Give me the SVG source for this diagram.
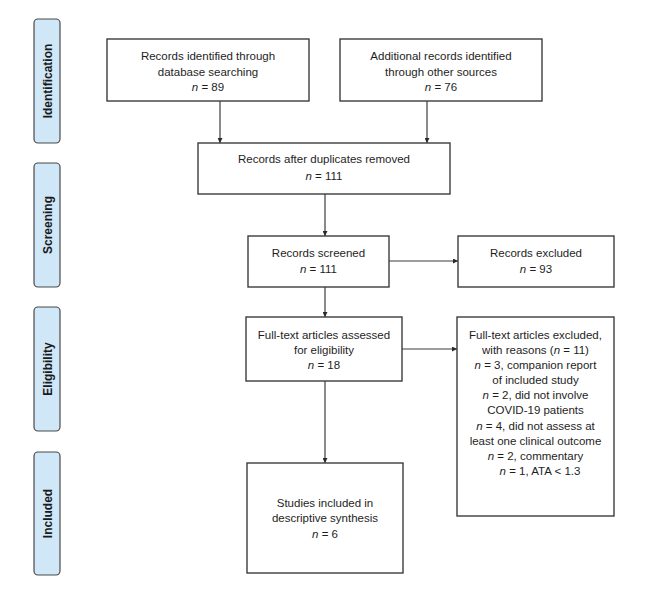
<svg xmlns="http://www.w3.org/2000/svg" width="650" height="595" viewBox="0 0 650 595">
<defs>
<style>
.bg{fill:#ffffff}
.phase rect{fill:#cfe7f7;stroke:#4a4a4a;stroke-width:1.2}
.phase text{font-family:"Liberation Sans",Arial,sans-serif;font-weight:bold;font-size:12px;fill:#1a1a1a;text-anchor:middle}
.node rect{fill:#ffffff;stroke:#3c3c3c;stroke-width:1.4}
.node text{font-family:"Liberation Sans",Arial,sans-serif;font-size:11.5px;fill:#1e1e1e;text-anchor:middle}
.node text tspan.i{font-style:italic}
.conn line{stroke:#3c3c3c;stroke-width:1.2;fill:none}
</style>
<marker id="ah" viewBox="0 0 10 10" refX="10" refY="5" markerWidth="6" markerHeight="5" markerUnits="userSpaceOnUse" orient="auto">
<path d="M0,0 L10,5 L0,10 z" fill="#2a2a2a"/>
</marker>
</defs>
<rect class="bg" x="0" y="0" width="650" height="595"/>

<g id="phase-identification" class="phase">
<rect x="34" y="19" width="26" height="124" rx="4"/>
<text transform="translate(51.5,81) rotate(-90)">Identification</text>
</g>
<g id="phase-screening" class="phase">
<rect x="34" y="163" width="26" height="124" rx="4"/>
<text transform="translate(51.5,225) rotate(-90)">Screening</text>
</g>
<g id="phase-eligibility" class="phase">
<rect x="34" y="307" width="26" height="124" rx="4"/>
<text transform="translate(51.5,369) rotate(-90)">Eligibility</text>
</g>
<g id="phase-included" class="phase">
<rect x="34" y="452" width="26" height="123" rx="4"/>
<text transform="translate(51.5,513.5) rotate(-90)">Included</text>
</g>

<g id="conn" class="conn">
<line x1="220" y1="101" x2="220" y2="143" marker-end="url(#ah)"/>
<line x1="427" y1="101" x2="427" y2="143" marker-end="url(#ah)"/>
<line x1="325" y1="194" x2="325" y2="236" marker-end="url(#ah)"/>
<line x1="389" y1="261" x2="458" y2="261" marker-end="url(#ah)"/>
<line x1="325" y1="287" x2="325" y2="317" marker-end="url(#ah)"/>
<line x1="402" y1="349" x2="457" y2="349" marker-end="url(#ah)"/>
<line x1="325" y1="381" x2="325" y2="463" marker-end="url(#ah)"/>
</g>

<g id="n-database" class="node">
<rect x="107" y="39" width="202" height="62"/>
<text x="208" y="60">Records identified through</text>
<text x="208" y="75.5">database searching</text>
<text x="208" y="91"><tspan class="i">n</tspan> = 89</text>
</g>
<g id="n-other" class="node">
<rect x="340" y="39" width="202" height="62"/>
<text x="441" y="60">Additional records identified</text>
<text x="441" y="75.5">through other sources</text>
<text x="441" y="91"><tspan class="i">n</tspan> = 76</text>
</g>
<g id="n-duplicates" class="node">
<rect x="198" y="143" width="252" height="51"/>
<text x="324" y="163">Records after duplicates removed</text>
<text x="324" y="180"><tspan class="i">n</tspan> = 111</text>
</g>
<g id="n-screened" class="node">
<rect x="248" y="236" width="141" height="51"/>
<text x="318.5" y="257">Records screened</text>
<text x="318.5" y="273"><tspan class="i">n</tspan> = 111</text>
</g>
<g id="n-excluded" class="node">
<rect x="458" y="236" width="156" height="51"/>
<text x="536" y="257">Records excluded</text>
<text x="536" y="273"><tspan class="i">n</tspan> = 93</text>
</g>
<g id="n-fulltext" class="node">
<rect x="246" y="317" width="156" height="64"/>
<text x="324" y="339">Full-text articles assessed</text>
<text x="324" y="354">for eligibility</text>
<text x="324" y="369"><tspan class="i">n</tspan> = 18</text>
</g>
<g id="n-ft-excluded" class="node">
<rect x="457" y="317" width="157" height="199"/>
<text x="535.5" y="339">Full-text articles excluded,</text>
<text x="535.5" y="354">with reasons (<tspan class="i">n</tspan> = 11)</text>
<text x="535.5" y="369"><tspan class="i">n</tspan> = 3, companion report</text>
<text x="535.5" y="384">of included study</text>
<text x="535.5" y="399"><tspan class="i">n</tspan> = 2, did not involve</text>
<text x="535.5" y="414">COVID-19 patients</text>
<text x="535.5" y="430"><tspan class="i">n</tspan> = 4, did not assess at</text>
<text x="535.5" y="445">least one clinical outcome</text>
<text x="535.5" y="460"><tspan class="i">n</tspan> = 2, commentary</text>
<text x="540" y="475"><tspan class="i">n</tspan> = 1, ATA &lt; 1.3</text>
</g>
<g id="n-included" class="node">
<rect x="247" y="463" width="156" height="110"/>
<text x="325" y="507">Studies included in</text>
<text x="325" y="522">descriptive synthesis</text>
<text x="325" y="538"><tspan class="i">n</tspan> = 6</text>
</g>
</svg>
